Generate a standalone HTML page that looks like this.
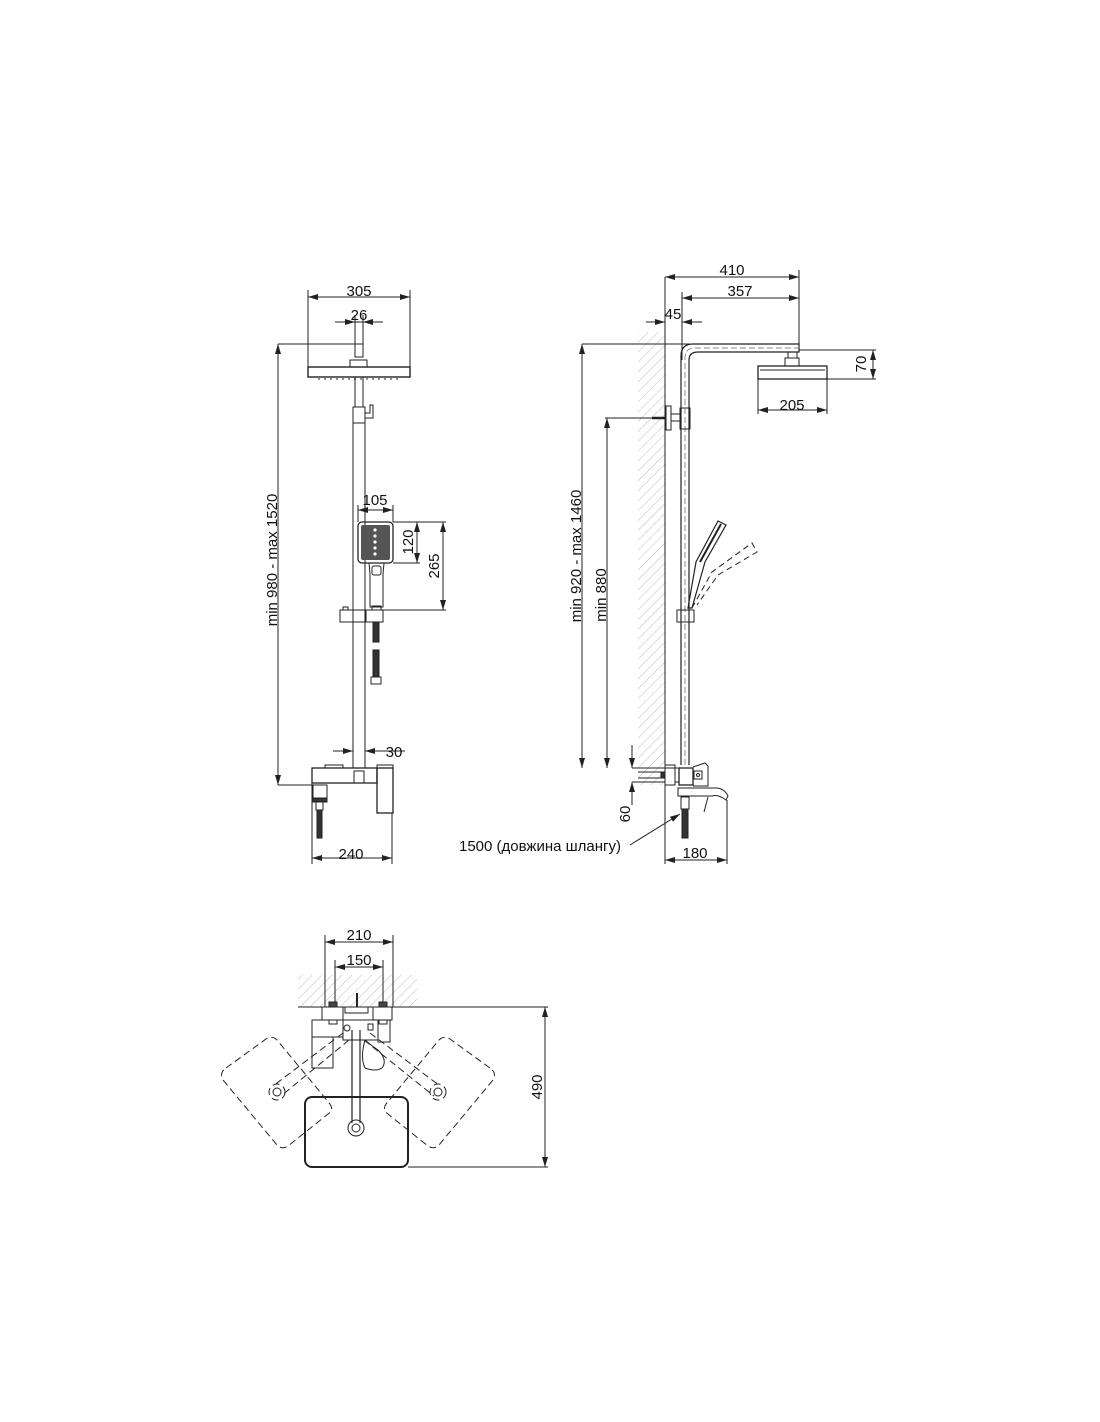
<!DOCTYPE html>
<html><head><meta charset="utf-8"><style>
html,body{margin:0;padding:0;background:#fff;}
svg{display:block;}
text{font-family:"Liberation Sans",Arial,sans-serif;font-size:15px;fill:#111;}
</style></head><body>
<svg width="1100" height="1422" viewBox="0 0 1100 1422" xmlns="http://www.w3.org/2000/svg">
<defs>
<marker id="a" viewBox="0 0 10 6" refX="10" refY="3" markerWidth="10" markerHeight="6" orient="auto-start-reverse" markerUnits="userSpaceOnUse"><path d="M0,0 L10,3 L0,6 z" fill="#222"/></marker>
<pattern id="h" width="7" height="7" patternUnits="userSpaceOnUse" patternTransform="rotate(45)"><line x1="0" y1="0" x2="0" y2="7" stroke="#bbb" stroke-width="1"/></pattern>
</defs>
<g fill="none" stroke="#222" stroke-width="1">
<!-- ========== FRONT VIEW ========== -->
<line x1="308" y1="297" x2="410" y2="297" marker-start="url(#a)" marker-end="url(#a)"/>
<line x1="308" y1="290" x2="308" y2="367"/><line x1="410" y1="290" x2="410" y2="367"/>
<line x1="335" y1="322" x2="383" y2="322"/>
<line x1="335" y1="322" x2="355" y2="322" marker-end="url(#a)"/>
<line x1="383" y1="322" x2="363" y2="322" marker-end="url(#a)"/>
<line x1="355" y1="315" x2="355" y2="344"/><line x1="363" y1="315" x2="363" y2="344"/>
<rect x="355" y="344" width="8" height="13"/>
<rect x="350" y="360" width="17" height="7"/>
<rect x="308" y="367" width="102" height="10" stroke-width="1.4"/>
<line x1="318" y1="379" x2="400" y2="379" stroke-dasharray="2,4"/>
<line x1="278" y1="344" x2="355" y2="344"/>
<line x1="278" y1="344" x2="278" y2="785" marker-start="url(#a)" marker-end="url(#a)"/>
<line x1="278" y1="785" x2="318" y2="785"/>
<line x1="355" y1="377" x2="355" y2="407"/><line x1="363" y1="377" x2="363" y2="407"/>
<rect x="353" y="407" width="12" height="16"/>
<path d="M365,413 h5 v-8 h3 v13 h-8"/>
<line x1="353" y1="423" x2="353" y2="768"/><line x1="365" y1="423" x2="365" y2="768"/>
<!-- hand shower -->
<rect x="358" y="522" width="35" height="41" rx="4" stroke-width="1.3"/>
<rect x="361" y="525" width="29" height="35" rx="2" fill="#555" stroke="none"/>
<g fill="#fff" stroke="none"><circle cx="375" cy="530" r="1.6"/><circle cx="375" cy="536" r="1.6"/><circle cx="375" cy="542" r="1.6"/><circle cx="375" cy="548" r="1.6"/><circle cx="375" cy="554" r="1.6"/></g>
<path d="M369,563 L370,574 L370,607 L383,607 L383,574 L384,563"/>
<rect x="372" y="566" width="9" height="9" rx="2"/>
<rect x="372" y="606" width="9" height="4"/>
<rect x="340" y="610" width="43" height="12"/>
<line x1="366" y1="610" x2="366" y2="622"/>
<rect x="343" y="607" width="5" height="3"/>
<rect x="373" y="622" width="6" height="20" fill="#333"/>
<rect x="373" y="650" width="6" height="27" fill="#333"/>
<rect x="371" y="677" width="10" height="7"/>
<line x1="358" y1="510" x2="393" y2="510" marker-start="url(#a)" marker-end="url(#a)"/>
<line x1="358" y1="505" x2="358" y2="522"/><line x1="393" y1="505" x2="393" y2="522"/>
<line x1="393" y1="522" x2="446" y2="522"/><line x1="393" y1="563" x2="420" y2="563"/><line x1="383" y1="610" x2="446" y2="610"/>
<line x1="417" y1="522" x2="417" y2="563" marker-start="url(#a)" marker-end="url(#a)"/>
<line x1="443" y1="522" x2="443" y2="610" marker-start="url(#a)" marker-end="url(#a)"/>
<!-- 30 -->
<line x1="333" y1="751" x2="353" y2="751" marker-end="url(#a)"/>
<line x1="405" y1="751" x2="365" y2="751" marker-end="url(#a)"/>
<!-- mixer -->
<rect x="325" y="765" width="18" height="3"/>
<rect x="312" y="768" width="65" height="15" stroke-width="1.3"/>
<rect x="354" y="771" width="10" height="12"/>
<path d="M377,765 h16 v3 h-16 z"/>
<rect x="377" y="768" width="16" height="45" stroke-width="1.3"/>
<rect x="313" y="785" width="14" height="13"/>
<rect x="312" y="798" width="15" height="4" fill="#333"/>
<rect x="316" y="802" width="7" height="8"/>
<rect x="317" y="810" width="5" height="28" fill="#333"/>
<line x1="312" y1="783" x2="312" y2="864"/><line x1="392" y1="813" x2="392" y2="864"/>
<line x1="312" y1="858" x2="392" y2="858" marker-start="url(#a)" marker-end="url(#a)"/>

<!-- ========== SIDE VIEW ========== -->
<rect x="638" y="332" width="27" height="453" fill="url(#h)" stroke="none"/>
<line x1="665" y1="277" x2="665" y2="864"/>
<line x1="665" y1="277" x2="799" y2="277" marker-start="url(#a)" marker-end="url(#a)"/>
<line x1="682" y1="298" x2="799" y2="298" marker-start="url(#a)" marker-end="url(#a)"/>
<line x1="799" y1="270" x2="799" y2="344"/>
<line x1="682" y1="292" x2="682" y2="360"/>
<line x1="646" y1="322" x2="665" y2="322" marker-end="url(#a)"/>
<line x1="702" y1="322" x2="682" y2="322" marker-end="url(#a)"/>
<line x1="582" y1="344" x2="690" y2="344"/>
<line x1="582" y1="344" x2="582" y2="768" marker-start="url(#a)" marker-end="url(#a)"/>
<path d="M681,765 V356 Q681,344 693,344 H799 V352 H698 Q689,352 689,360 V765" stroke-width="1.2"/>
<path d="M685,765 V358 Q685,348 695,348 H799" stroke="#888" stroke-dasharray="6,3"/>
<rect x="788" y="352" width="9" height="6"/>
<rect x="785" y="358" width="14" height="8"/>
<rect x="758" y="366" width="69" height="13" stroke-width="1.3"/>
<line x1="760" y1="370" x2="825" y2="370"/>
<line x1="799" y1="350" x2="876" y2="350"/><line x1="827" y1="379" x2="876" y2="379"/>
<line x1="873" y1="350" x2="873" y2="379" marker-start="url(#a)" marker-end="url(#a)"/>
<line x1="758" y1="379" x2="758" y2="414"/><line x1="827" y1="379" x2="827" y2="414"/>
<line x1="758" y1="410" x2="827" y2="410" marker-start="url(#a)" marker-end="url(#a)"/>
<!-- bracket -->
<rect x="666" y="406" width="5" height="24"/>
<rect x="671" y="414" width="10" height="7"/>
<rect x="680" y="408" width="10" height="21"/>
<line x1="605" y1="418" x2="666" y2="418"/>
<line x1="652" y1="418" x2="666" y2="418" stroke-width="2.5"/>
<line x1="607" y1="418" x2="607" y2="768" marker-start="url(#a)" marker-end="url(#a)"/>
<!-- hand shower side -->
<path d="M688,608 L696,562 L718,521 L726,525 L705,562 L692,608 Z" stroke-width="1.2"/>
<line x1="700" y1="562" x2="721" y2="524" stroke-width="2"/>
<path d="M692,608 L712,572 L752,543 L757,552 L718,575 L697,605" stroke-dasharray="6,4"/>
<rect x="677" y="610" width="17" height="12"/>
<!-- mixer side -->
<line x1="632" y1="768" x2="680" y2="768"/><line x1="632" y1="782" x2="665" y2="782"/>
<line x1="638" y1="772" x2="665" y2="772"/><line x1="638" y1="778" x2="665" y2="778"/>
<rect x="661" y="772" width="4" height="6" fill="#333"/>
<rect x="665" y="765" width="10" height="20"/>
<rect x="675" y="768" width="4" height="14"/>
<rect x="679" y="768" width="14" height="17" stroke-width="1.3"/>
<path d="M693,767 L705,763 L708,766 L708,786 L693,786"/>
<rect x="694" y="771" width="8" height="8"/><circle cx="698" cy="775" r="1.5"/>
<path d="M678,788 H716 Q724,788 728,796 L726,800 Q718,794 712,796 H678 Z"/>
<path d="M708,797 L704,812" />
<rect x="681" y="797" width="8" height="12"/>
<rect x="682" y="809" width="6" height="29" fill="#333"/>
<line x1="727" y1="800" x2="727" y2="864"/>
<line x1="665" y1="860" x2="727" y2="860" marker-start="url(#a)" marker-end="url(#a)"/>
<line x1="632" y1="745" x2="632" y2="768" marker-end="url(#a)"/>
<line x1="632" y1="805" x2="632" y2="782" marker-end="url(#a)"/>
<line x1="630" y1="845" x2="680" y2="814" marker-end="url(#a)"/>

<!-- ========== TOP VIEW ========== -->
<rect x="298" y="975" width="119" height="32" fill="url(#h)" stroke="none"/>
<line x1="298" y1="1007" x2="548" y2="1007"/>
<line x1="325" y1="935" x2="325" y2="1007"/><line x1="393" y1="935" x2="393" y2="1007"/>
<line x1="335" y1="960" x2="335" y2="1007"/><line x1="383" y1="960" x2="383" y2="1007"/>
<line x1="325" y1="942" x2="393" y2="942" marker-start="url(#a)" marker-end="url(#a)"/>
<line x1="335" y1="967" x2="383" y2="967" marker-start="url(#a)" marker-end="url(#a)"/>
<line x1="545" y1="1007" x2="545" y2="1167" marker-start="url(#a)" marker-end="url(#a)"/>
<line x1="408" y1="1167" x2="548" y2="1167"/>
<rect x="322" y="1007" width="21" height="13"/><rect x="373" y="1007" width="19" height="13"/>
<rect x="329" y="1002" width="8" height="5" fill="#444"/><rect x="379" y="1002" width="8" height="5" fill="#444"/>
<rect x="329" y="1020" width="8" height="4"/><rect x="379" y="1020" width="8" height="4"/>
<rect x="345" y="1007" width="23" height="6"/>
<line x1="357" y1="993" x2="357" y2="1007" stroke-width="2"/>
<rect x="312" y="1020" width="31" height="17"/>
<rect x="312" y="1037" width="21" height="31"/>
<rect x="343" y="1020" width="35" height="20"/>
<rect x="378" y="1020" width="12" height="22"/>
<circle cx="347" cy="1028" r="3"/>
<rect x="368" y="1024" width="5" height="6"/>
<path d="M365,1040 Q372,1046 378,1050 Q388,1060 382,1068 Q375,1072 365,1068 Q360,1058 365,1040"/>
<path d="M352,1030 V1123 M360,1030 V1123" stroke-width="1.2"/>
<circle cx="356" cy="1128" r="8"/><circle cx="356" cy="1128" r="4"/>
<rect x="305" y="1097" width="103" height="70" rx="7" stroke-width="2"/>
<!-- dashed diamonds -->
<g stroke-dasharray="7,4">
<path d="M226,1068 L266,1039 Q272,1035 277,1040 L330,1104 Q334,1110 328,1114 L288,1146 Q282,1150 277,1145 L223,1080 Q219,1073 226,1068 Z"/>
<path d="M490,1068 L450,1039 Q444,1035 439,1040 L386,1104 Q382,1110 388,1114 L428,1146 Q434,1150 439,1145 L493,1080 Q497,1073 490,1068 Z"/>
<path d="M343,1033 L273,1086 M349,1040 L281,1096"/>
<path d="M370,1033 L440,1086 M364,1040 L434,1096"/>
<circle cx="277" cy="1092" r="8"/><circle cx="438" cy="1092" r="8"/>
</g>
<circle cx="277" cy="1092" r="4"/><circle cx="438" cy="1092" r="4"/>
</g>

<!-- TEXT -->
<text x="359" y="296" text-anchor="middle">305</text>
<text x="359" y="320" text-anchor="middle">26</text>
<text x="375" y="505" text-anchor="middle">105</text>
<text x="394" y="757" text-anchor="middle">30</text>
<text x="351" y="859" text-anchor="middle">240</text>
<text transform="translate(277,560) rotate(-90)" text-anchor="middle">min 980 - max 1520</text>
<text transform="translate(413,542) rotate(-90)" text-anchor="middle">120</text>
<text transform="translate(439,566) rotate(-90)" text-anchor="middle">265</text>

<text x="732" y="275" text-anchor="middle">410</text>
<text x="740" y="296" text-anchor="middle">357</text>
<text x="673" y="319" text-anchor="middle">45</text>
<text transform="translate(866,364) rotate(-90)" text-anchor="middle">70</text>
<text x="792" y="410" text-anchor="middle">205</text>
<text transform="translate(581,556) rotate(-90)" text-anchor="middle">min 920 - max 1460</text>
<text transform="translate(606,595) rotate(-90)" text-anchor="middle">min 880</text>
<text transform="translate(630,814) rotate(-90)" text-anchor="middle">60</text>
<text x="459" y="851" style="font-family:'Liberation Sans','DejaVu Sans',sans-serif;">1500 (довжина шлангу)</text>
<text x="695" y="858" text-anchor="middle">180</text>

<text x="359" y="940" text-anchor="middle">210</text>
<text x="359" y="965" text-anchor="middle">150</text>
<text transform="translate(542,1087) rotate(-90)" text-anchor="middle">490</text>
</svg>
</body></html>
